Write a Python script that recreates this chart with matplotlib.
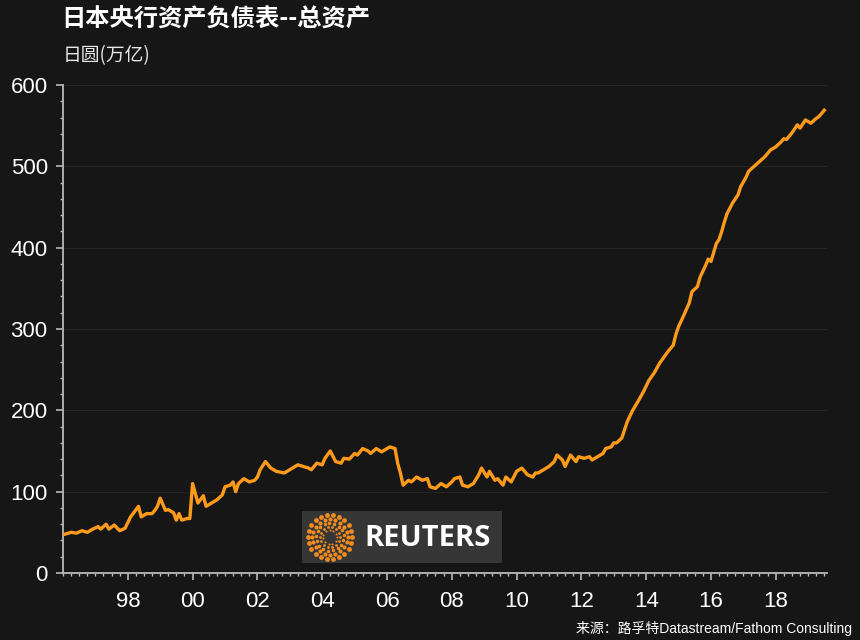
import numpy as np
import pandas as pd

import matplotlib
matplotlib.use('Agg')
import matplotlib.pyplot as plt
import matplotlib.dates as mdates
from matplotlib.patches import Rectangle

# BoJ total assets, trillion yen
months = [
    '1996-01', '1996-04', '1996-06', '1996-08', '1996-10', '1996-12',
    '1997-02', '1997-03', '1997-05', '1997-06', '1997-08', '1997-10', '1997-12',
    '1998-02', '1998-03', '1998-05', '1998-06', '1998-08', '1998-10', '1998-11', '1998-12',
    '1999-01', '1999-03', '1999-04', '1999-06', '1999-07', '1999-08', '1999-09', '1999-11', '1999-12',
    '2000-01', '2000-03', '2000-05', '2000-06', '2000-07', '2000-10', '2000-12',
    '2001-01', '2001-03', '2001-04', '2001-05', '2001-06', '2001-08', '2001-10', '2001-12',
    '2002-01', '2002-02', '2002-04', '2002-06', '2002-08', '2002-11',
    '2003-01', '2003-04', '2003-06', '2003-08', '2003-09', '2003-11',
    '2004-01', '2004-02', '2004-04', '2004-06', '2004-08', '2004-09', '2004-11',
    '2005-01', '2005-02', '2005-04', '2005-06', '2005-07', '2005-09', '2005-11',
    '2006-01', '2006-02', '2006-04', '2006-05', '2006-06', '2006-07', '2006-09', '2006-10', '2006-12',
    '2007-02', '2007-04', '2007-05', '2007-07', '2007-09', '2007-11',
    '2008-01', '2008-02', '2008-04', '2008-05', '2008-07', '2008-09', '2008-11', '2008-12',
    '2009-02', '2009-03', '2009-05', '2009-06', '2009-08', '2009-09', '2009-11',
    '2010-01', '2010-03', '2010-05', '2010-07', '2010-08', '2010-09', '2010-11', '2010-12',
    '2011-01', '2011-03', '2011-04', '2011-06', '2011-07', '2011-09', '2011-11', '2011-12',
    '2012-02', '2012-04', '2012-05', '2012-07', '2012-09', '2012-10', '2012-12',
    '2013-01', '2013-02', '2013-04', '2013-05', '2013-06', '2013-08', '2013-10', '2013-12',
    '2014-02', '2014-04', '2014-06', '2014-09', '2014-11', '2014-12',
    '2015-01', '2015-03', '2015-05', '2015-06', '2015-08', '2015-09', '2015-11', '2015-12',
    '2016-01', '2016-03', '2016-04', '2016-05', '2016-06', '2016-07', '2016-09', '2016-11', '2016-12',
    '2017-02', '2017-03', '2017-05', '2017-07', '2017-09', '2017-11',
    '2018-01', '2018-03', '2018-04', '2018-05', '2018-07', '2018-09', '2018-10', '2018-12',
    '2019-02', '2019-04', '2019-05', '2019-07',
]
assets = [
    47, 50, 49, 52, 50, 54,
    57, 54, 60, 54, 59, 52, 55,
    69, 73, 82, 69, 73, 73, 77, 82,
    92, 77, 78, 74, 65, 73, 65, 67, 67,
    110, 86, 95, 82, 84, 90, 96,
    106, 108, 112, 100, 110, 116, 112, 114,
    118, 127, 137, 129, 125, 123,
    127, 133, 131, 129, 127, 135,
    133, 141, 150, 137, 135, 141, 140,
    147, 145, 153, 150, 147, 153, 149,
    153, 155, 153, 135, 123, 108, 114, 112, 118,
    114, 116, 106, 104, 110, 106,
    112, 116, 118, 108, 106, 110, 121, 129,
    118, 125, 114, 116, 108, 118, 112,
    125, 129, 121, 118, 123, 123, 127, 129,
    131, 137, 145, 139, 131, 145, 137, 143,
    141, 143, 139, 143, 147, 153, 155,
    160, 160, 166, 176, 186, 200, 211, 223,
    237, 246, 258, 272, 280, 293,
    303, 317, 332, 346, 352, 364, 378, 386,
    383, 405, 410, 420, 432, 442, 455, 465, 475,
    487, 494, 500, 506, 512, 520,
    524, 530, 534, 533, 541, 551, 547, 557,
    553, 559, 561, 569,
]
tick_years = list(range(1998, 2019, 2))

title = '日本央行资产负债表--总资产'
unit = '日圆(万亿)'
source = '来源：路孚特Datastream/Fathom Consulting'

bg = '#161616'
line_col = '#ff9a1a'
axis_col = '#b8b8b8'

plt.rcParams['font.family'] = ['Liberation Sans', 'Noto Sans CJK SC', 'DejaVu Sans']

dates = pd.to_datetime(months)

fig = plt.figure(figsize=(8.6, 6.4), dpi=100, facecolor=bg)
ax = fig.add_axes([63/860, 1-573/640, (827-63)/860, (573-85)/640])
ax.set_facecolor(bg)

ax.plot(dates, assets, color=line_col, lw=2.4, solid_joinstyle='round', zorder=3)

ax.set_ylim(0, 600)
ax.set_xlim(pd.Timestamp('1996-01-01'), pd.Timestamp('2019-08-01'))

ax.yaxis.set_major_locator(plt.MultipleLocator(100))
ax.yaxis.set_minor_locator(plt.MultipleLocator(20))
ax.set_xticks(pd.to_datetime([f'{y}-01-01' for y in tick_years]))
ax.xaxis.set_minor_locator(mdates.MonthLocator(bymonth=[1, 4, 7, 10]))
ax.xaxis.set_major_formatter(mdates.DateFormatter('%y'))

ax.grid(axis='y', which='major', color='#242424', lw=0.8, zorder=0)

for s in ['top', 'right']:
    ax.spines[s].set_visible(False)
for s in ['left', 'bottom']:
    ax.spines[s].set_color(axis_col)
    ax.spines[s].set_linewidth(1.3)

ax.tick_params(which='major', colors=axis_col, length=5, width=1.2,
               labelsize=16, labelcolor='white', pad=6)
ax.tick_params(which='minor', colors=axis_col, length=2.5, width=1.0)
ax.tick_params(axis='x', which='major', pad=8)

fig.text(61/860, 1-19/640, title, color='white', fontsize=17.5, fontweight='bold',
         family=['Noto Sans CJK SC', 'DejaVu Sans'], va='center', ha='left')
fig.text(63/860, 1-56/640, unit, color='#e8e8e8', fontsize=13.5,
         family=['Noto Sans CJK SC', 'DejaVu Sans'], va='center', ha='left')
fig.text(852/860, 1-628/640, source, color='white', fontsize=10,
         family=['Liberation Sans', 'Noto Sans CJK SC'], va='center', ha='right')

# Reuters logo badge
fig.patches.append(Rectangle((302/860, 1-563/640), 200/860, 52/640,
                             transform=fig.transFigure, facecolor='#363636',
                             edgecolor='none', zorder=5))
lax = fig.add_axes([306/860, 1-561/640, 48/860, 48/640], zorder=6)
lax.set_xlim(-1, 1)
lax.set_ylim(-1, 1)
lax.set_aspect('equal')
lax.axis('off')
for r, n, sz in [(0.92, 22, 12), (0.74, 20, 9), (0.57, 17, 6.5), (0.42, 14, 4), (0.29, 11, 2.2)]:
    a = np.linspace(0, 2*np.pi, n, endpoint=False) + (0.5 if n % 2 else 0)
    lax.scatter(r*np.cos(a), r*np.sin(a), s=sz, color='#f08c1e', lw=0)
fig.text(364/860, 1-538/640, 'REUTERS', color='white', fontsize=21, fontweight='bold',
         family=['Open Sans', 'DejaVu Sans'], va='center', ha='left', zorder=7)

fig.savefig('out.png', dpi=100, facecolor=bg)
plt.close(fig)
